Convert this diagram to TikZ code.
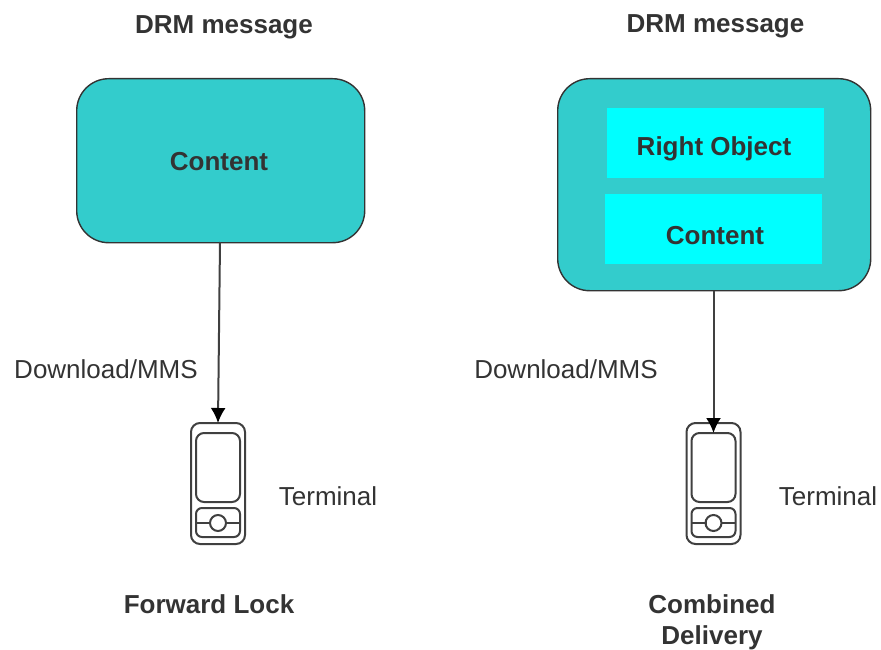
\documentclass[tikz,border=0pt]{standalone}
\usepackage{fontspec}
\setmainfont{Liberation Sans}
\usetikzlibrary{arrows.meta}
\definecolor{tealbox}{HTML}{33CCCC}
\definecolor{cyanbox}{HTML}{00FFFF}
\definecolor{txt}{HTML}{333333}
\tikzset{
  msgbox/.style={draw=black!80,line width=1.4pt,fill=tealbox,rounded corners=32pt,minimum width=#1,inner sep=0pt,anchor=north west},
  inbox/.style={fill=cyanbox,inner sep=0pt,minimum width=217pt,minimum height=70pt,anchor=north west},
  boldlabel/.style={text=txt,font=\fontsize{26}{31}\selectfont\bfseries,align=center,inner sep=0pt},
  plainlabel/.style={text=txt,font=\fontsize{26}{31}\selectfont,inner sep=0pt},
  conn/.style={draw=black!75,line width=2pt,-{Latex[length=15pt,width=15pt,black]}},
  phonepart/.style={draw=black!75,line width=2pt},
  phone/.pic={
    \draw[phonepart,rounded corners=9pt] (0,0) rectangle (54,121);
    \draw[phonepart,rounded corners=8pt] (5,10) rectangle (49,79);
    \draw[phonepart,rounded corners=6pt] (5,85) rectangle (49,114);
    \draw[phonepart] (5,100) -- (20,100) (34,100) -- (49,100);
    \draw[phonepart] (27,100) circle (8);
  }
}
\begin{document}
\begin{tikzpicture}[x=1pt,y=-1pt]
\useasboundingbox (0,0) rectangle (881,650);
\node[msgbox=288pt,minimum height=164pt] (left) at (76,78) {};
\node[boldlabel] (lc) at (219,162) {Content};
\node[boldlabel] (t1) at (224,27) {DRM message};
\node[boldlabel] (t2) at (715.5,26) {DRM message};
\node[msgbox=313pt,minimum height=212pt] (right) at (557,78) {};
\node[inbox] (ro) at (606.5,108) {};
\node[inbox] (cont) at (604.5,194) {};
\node[boldlabel] (rot) at (714,149) {Right Object};
\node[boldlabel] (cot) at (715,236) {Content};
\pic at (191,423) {phone};
\pic at (686.5,423) {phone};
\coordinate (s1) at (220,242);
\coordinate (p1) at (218,423);
\coordinate (p2) at (713.5,433);
\draw[conn] (s1) -- (p1);
\draw[conn] (right.south -| p2) -- (p2);
\node[plainlabel] (d1) at (106,369) {Download/MMS};
\node[plainlabel] (d2) at (566,369) {Download/MMS};
\node[plainlabel] (m1) at (328,496) {Terminal};
\node[plainlabel] (m2) at (828,496) {Terminal};
\node[boldlabel] (f1) at (209,604) {Forward Lock};
\node[boldlabel] (f2) at (712,622) {Combined\\Delivery};
\end{tikzpicture}
\end{document}
